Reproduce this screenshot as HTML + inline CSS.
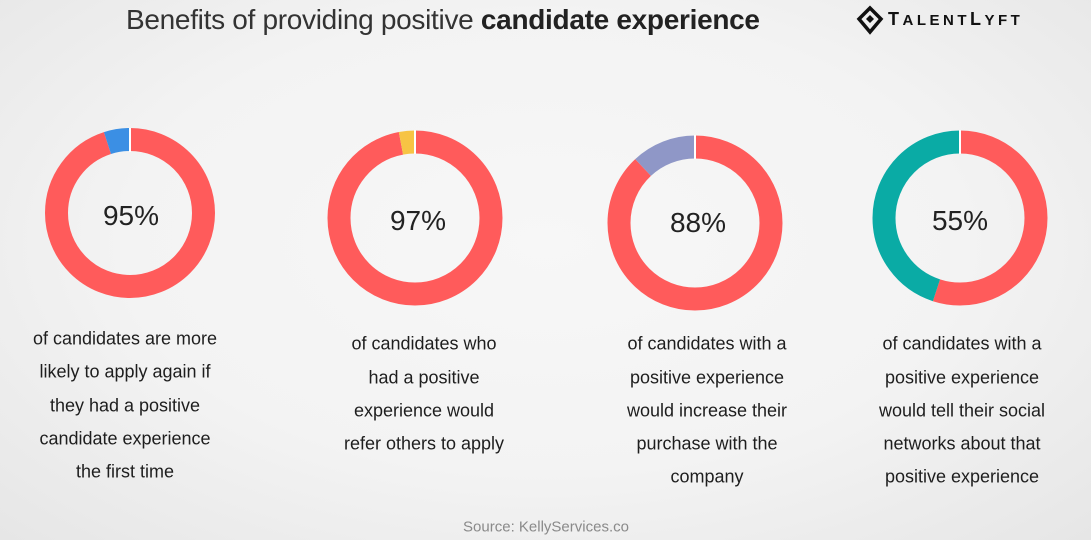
<!DOCTYPE html>
<html><head><meta charset="utf-8">
<style>
html,body{margin:0;padding:0}
body{width:1091px;height:540px;overflow:hidden;position:relative;font-family:"Liberation Sans",Arial,sans-serif;
background:radial-gradient(ellipse at 50% 45%,#f7f7f7 0%,#f3f3f3 55%,#e6e6e6 100%);}
.t{position:absolute;white-space:nowrap;transform:translate(-50%,-50%);font-size:18px;color:#1e1e1e;}
.title{position:absolute;left:126px;top:4px;font-size:28px;color:#333;white-space:nowrap;letter-spacing:-0.3px}
.title b{color:#222}
.logo{position:absolute;left:888px;top:9px;font-size:18px;font-weight:bold;letter-spacing:3.5px;color:#111;white-space:nowrap}
.src{position:absolute;left:546px;top:527px;transform:translate(-50%,-50%);font-size:15px;color:#8a8a8a;white-space:nowrap}
</style></head><body>
<div class="title">Benefits of providing positive <b>candidate experience</b></div>
<svg style="position:absolute;left:855px;top:5px" width="30" height="30" viewBox="0 0 30 30">
<path d="M15 3 L26 14 L15 27 L4 14 Z" fill="none" stroke="#111" stroke-width="3.5"/>
<path d="M15 10 L19 14 L15 18 L11 14 Z" fill="#111"/>
</svg>
<div class="logo">T<span style="font-size:15px">ALENT</span>L<span style="font-size:15px">YFT</span></div>

<svg style="position:absolute;left:0;top:0" width="1091" height="540">
<g fill="none" stroke-width="23">
<g transform="translate(130,213) rotate(-90)">
<circle r="73.5" stroke="#ff5b5b" stroke-dasharray="438.7 461.8"/>
<circle r="73.5" stroke="#3b8fe4" stroke-dasharray="0 438.7 23.1 100"/>
</g>
<g transform="translate(415,218) rotate(-90)">
<circle r="76" stroke="#ff5b5b" stroke-dasharray="463.2 477.5"/>
<circle r="76" stroke="#f7c444" stroke-dasharray="0 463.2 14.3 100"/>
</g>
<g transform="translate(695,223) rotate(-90)">
<circle r="76" stroke="#ff5b5b" stroke-dasharray="420.2 477.5"/>
<circle r="76" stroke="#8f97c7" stroke-dasharray="0 420.2 57.3 100"/>
</g>
<g transform="translate(960,218) rotate(-90)">
<circle r="76" stroke="#ff5b5b" stroke-dasharray="262.6 477.5"/>
<circle r="76" stroke="#0aaba5" stroke-dasharray="0 262.6 214.9 100"/>
</g>
</g>
<g stroke="#fff" stroke-width="2">
<line x1="130" y1="128" x2="130" y2="152"/>
<line x1="415" y1="130" x2="415" y2="154"/>
<line x1="695" y1="135" x2="695" y2="159"/>
<line x1="960" y1="130" x2="960" y2="154"/>
</g>
<g font-family="Liberation Sans,Arial,sans-serif" font-size="28" fill="#222" text-anchor="middle">
<text x="131" y="225">95%</text>
<text x="418" y="230">97%</text>
<text x="698" y="232">88%</text>
<text x="960" y="230">55%</text>
</g>
</svg>

<div class="t" style="left:125px;top:339px">of candidates are more</div>
<div class="t" style="left:125px;top:372px">likely to apply again if</div>
<div class="t" style="left:125px;top:406px">they had a positive</div>
<div class="t" style="left:125px;top:439px">candidate experience</div>
<div class="t" style="left:125px;top:472px">the first time</div>

<div class="t" style="left:424px;top:344px">of candidates who</div>
<div class="t" style="left:424px;top:378px">had a positive</div>
<div class="t" style="left:424px;top:411px">experience would</div>
<div class="t" style="left:424px;top:444px">refer others to apply</div>

<div class="t" style="left:707px;top:344px">of candidates with a</div>
<div class="t" style="left:707px;top:378px">positive experience</div>
<div class="t" style="left:707px;top:411px">would increase their</div>
<div class="t" style="left:707px;top:444px">purchase with the</div>
<div class="t" style="left:707px;top:477px">company</div>

<div class="t" style="left:962px;top:344px">of candidates with a</div>
<div class="t" style="left:962px;top:378px">positive experience</div>
<div class="t" style="left:962px;top:411px">would tell their social</div>
<div class="t" style="left:962px;top:444px">networks about that</div>
<div class="t" style="left:962px;top:477px">positive experience</div>

<div class="src">Source: KellyServices.co</div>
</body></html>
